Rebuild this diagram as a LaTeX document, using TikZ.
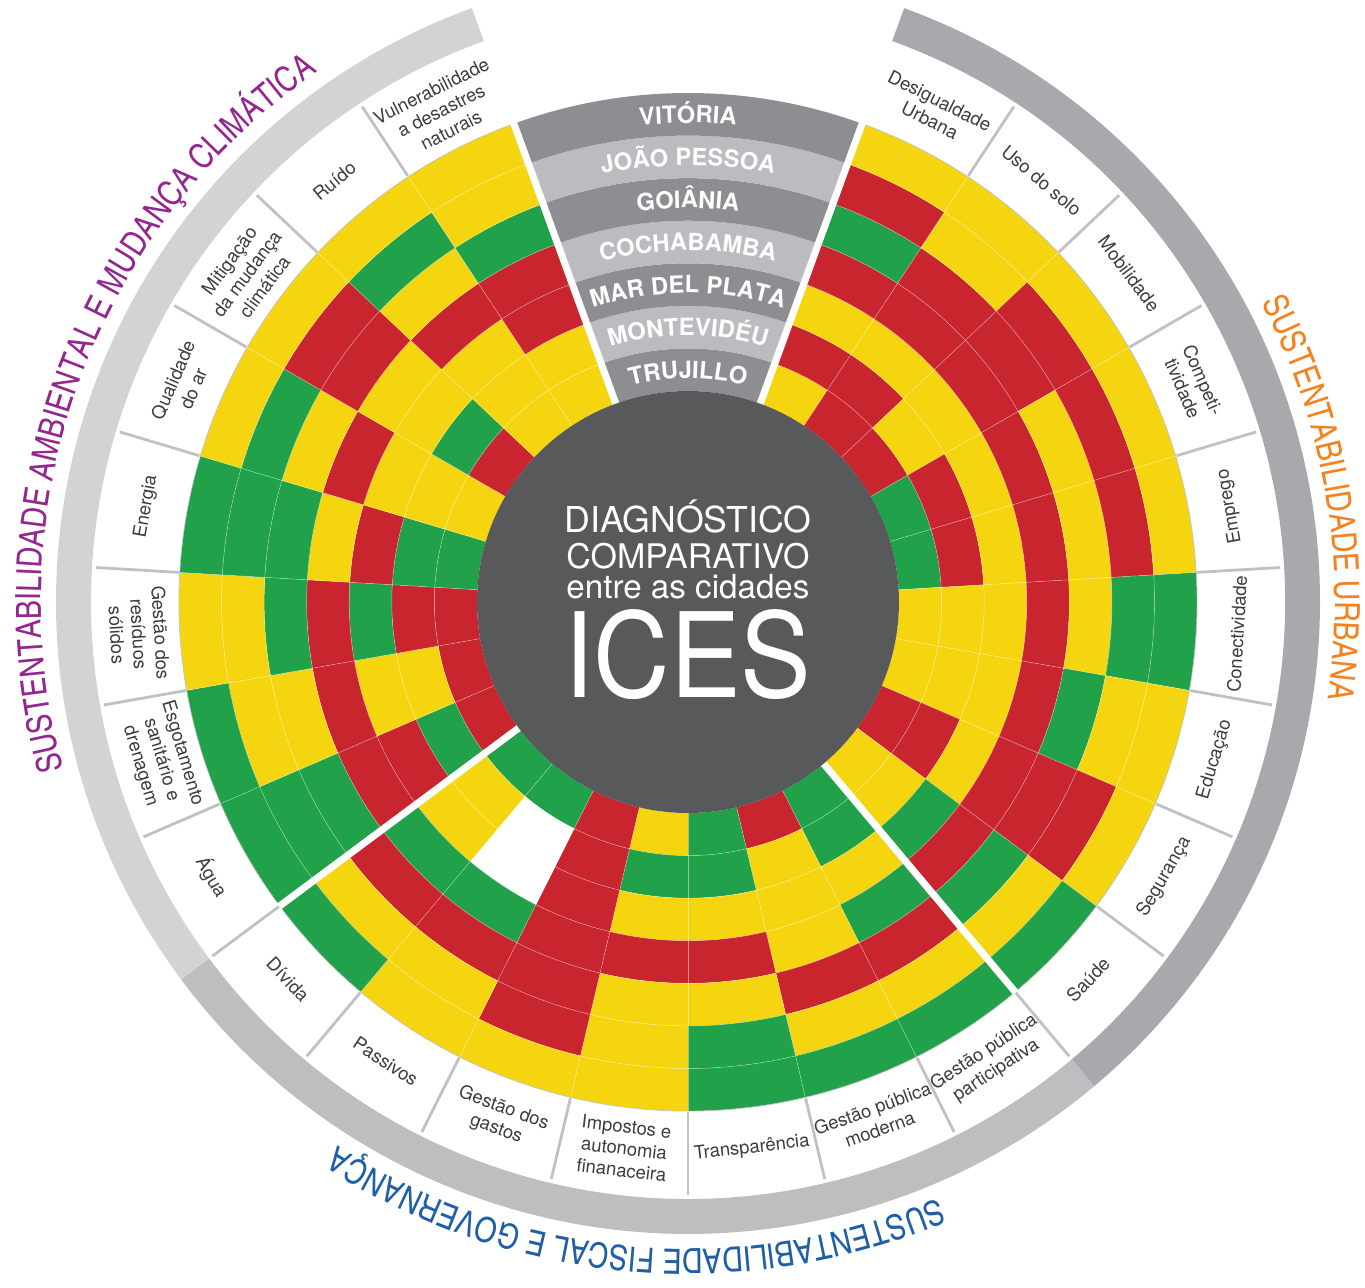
\documentclass[tikz,border=0pt]{standalone}
\usepackage{fontspec}
\usepackage{graphicx}
\setmainfont{TeX Gyre Heros}
\newfontfamily\cnfont{TeX Gyre Heros Cn}
\usetikzlibrary{decorations.text}

\definecolor{icesg}{HTML}{21A14A}
\definecolor{icesy}{HTML}{F4D50F}
\definecolor{icesr}{HTML}{C8252F}
\definecolor{icesw}{HTML}{FFFFFF}
\definecolor{disc}{HTML}{58595B}
\definecolor{citydark}{HTML}{8D8E91}
\definecolor{citylight}{HTML}{BBBCBF}
\definecolor{sepgray}{HTML}{BFC1C3}
\definecolor{bandurb}{HTML}{A7A9AC}
\definecolor{bandfis}{HTML}{BCBEC0}
\definecolor{bandamb}{HTML}{D1D3D4}
\definecolor{titurb}{HTML}{F58220}
\definecolor{titfis}{HTML}{1F5FA6}
\definecolor{titamb}{HTML}{93278F}
\definecolor{lbltext}{HTML}{3C3C3E}
\newcommand\cityfont{\bfseries\fontsize{13.5}{14}\selectfont\color{white}}
\newcommand\titfont{\cnfont\fontsize{19.8}{21}\selectfont}

\begin{document}
\begin{tikzpicture}[
    lbl/.style={font=\fontsize{10.5}{12.5}\selectfont,text=lbltext,align=center,inner sep=0pt},%
    cellline/.style={white,opacity=.45,line width=.3pt},%
    sepline/.style={sepgray,line width=1.6pt},%
    gapline/.style={white,line width=4pt},%
    ttl/.style={text=white,anchor=base,inner sep=0pt}]
    \useasboundingbox (-13.76,-13.70) rectangle (13.54,12.04);

    % outer bands of the three groups
    \fill[bandurb] (70:11.94) arc[start angle=70,end angle=-50,radius=11.94] -- (-50:12.64) arc[start angle=-50,end angle=70,radius=12.64] -- cycle;
    \fill[bandfis] (-50:11.94) arc[start angle=-50,end angle=-143.333,radius=11.94] -- (-143.333:12.64) arc[start angle=-143.333,end angle=-50,radius=12.64] -- cycle;
    \fill[bandamb] (216.667:11.94) arc[start angle=216.667,end angle=110,radius=11.94] -- (110:12.64) arc[start angle=110,end angle=216.667,radius=12.64] -- cycle;

    % cells: sector / colours from TRUJILLO (inner) to VITORIA (outer)
    \foreach \s/\cl in {0/{y,r,y,r,g,r,y},1/{r,r,y,r,r,y,y},2/{r,y,y,r,r,r,y},
        3/{g,r,y,r,y,r,y},4/{g,r,y,r,y,r,y},5/{y,y,y,r,y,g,g},6/{y,y,y,r,g,y,y},
        7/{r,r,y,r,r,r,y},8/{y,y,g,r,g,y,g},9/{g,g,y,g,r,y,g},10/{r,y,y,y,r,y,g},
        11/{g,g,y,r,y,g,g},12/{y,g,y,r,y,y,y},13/{r,r,r,r,r,r,y},14/{g,w,w,g,r,y,y},
        15/{g,y,y,g,r,y,g},16/{r,g,r,r,g,g,g},17/{r,y,y,r,y,y,g},18/{r,r,g,r,g,y,y},
        19/{g,g,r,y,g,g,g},20/{y,y,y,r,y,g,y},21/{r,g,y,y,r,r,y},22/{y,y,y,r,y,g,y},
        23/{y,y,r,r,g,y,y}}{
        \pgfmathsetmacro\aa{70-13.3333*\s}
        \pgfmathsetmacro\ab{\aa-13.3333}
        \foreach \c [count=\k] in \cl {
            \pgfmathsetmacro\ra{4.22+0.8514*(\k-1)}
            \pgfmathsetmacro\rb{\ra+0.8514}
            \fill[ices\c] (\aa:\ra) arc[start angle=\aa,end angle=\ab,radius=\ra] -- (\ab:\rb) arc[start angle=\ab,end angle=\aa,radius=\rb] -- cycle;
        }
    }
    \foreach \s in {1,...,23}
        \draw[cellline] ({70-13.3333*\s}:4.22) -- ({70-13.3333*\s}:10.18);
    \foreach \k in {1,...,6}
        \draw[cellline] ({70}:{4.22+0.8514*\k}) arc[start angle=70,end angle=-250,radius={4.22+0.8514*\k}];
    \draw[sepgray,line width=.4pt] (70:10.18) arc[start angle=70,end angle=-250,radius=10.18];

    % city wedge
    \foreach \k/\cc in {1/citydark,2/citylight,3/citydark,4/citylight,5/citydark,6/citylight,7/citydark}{
        \pgfmathsetmacro\ra{4.22+0.8514*(\k-1)}
        \pgfmathsetmacro\rb{\ra+0.8514}
        \fill[\cc] (70:\ra) arc[start angle=70,end angle=110,radius=\ra] -- (110:\rb) arc[start angle=110,end angle=70,radius=\rb] -- cycle;
    }
    \foreach \g in {70,110,-50,-143.333}
        \draw[gapline] (\g:4.1) -- (\g:10.22);

    % label ring separators
    \foreach \s in {1,...,23}
        \draw[sepline] ({70-13.3333*\s}:10.2) -- ({70-13.3333*\s}:11.86);

    \fill[disc] (0,0) circle (4.22);

    % city names
    \path[decorate,decoration={text along path,text align=center,text={|\cityfont|TRUJILLO}}] (125:4.476) arc[start angle=125,end angle=55,radius=4.476];
    \path[decorate,decoration={text along path,text align=center,text={|\cityfont|MONTEVIDÉU}}] (125:5.33) arc[start angle=125,end angle=55,radius=5.33];
    \path[decorate,decoration={text along path,text align=center,text={|\cityfont|MAR DEL PLATA}}] (125:6.18) arc[start angle=125,end angle=55,radius=6.18];
    \path[decorate,decoration={text along path,text align=center,text={|\cityfont|COCHABAMBA}}] (125:7.03) arc[start angle=125,end angle=55,radius=7.03];
    \path[decorate,decoration={text along path,text align=center,text={|\cityfont|GOIÂNIA}}] (125:7.88) arc[start angle=125,end angle=55,radius=7.88];
    \path[decorate,decoration={text along path,text align=center,text={|\cityfont|JOÃO PESSOA}}] (125:8.73) arc[start angle=125,end angle=55,radius=8.73];
    \path[decorate,decoration={text along path,text align=center,text={|\cityfont|VITÓRIA}}] (125:9.58) arc[start angle=125,end angle=55,radius=9.58];

    % centre title
    \node[ttl] (diag) at (0,1.40) {\resizebox{4.94cm}{!}{DIAGNÓSTICO}};
    \node[ttl] (comp) at (0,0.68) {\resizebox{4.86cm}{!}{COMPARATIVO}};
    \node[ttl] (entre) at (0,0.08) {\resizebox{4.86cm}{!}{entre as cidades}};
    \node[ttl] (ices) at (0,-1.90) {\resizebox{4.94cm}{1.76cm}{ICES}};

    % indicator labels
    \foreach \s/\rot/\txt in {0/-26.67/{Desigualdade\\Urbana},1/-40/{Uso do solo},
        2/-53.33/Mobilidade,3/-66.67/{Competi-\\tividade},4/100/Emprego,
        5/86.67/Conectividade,6/73.33/Educação,7/60/Segurança,8/46.67/Saúde,
        9/33.33/{Gestão pública\\participativa},10/20/{Gestão pública\\moderna},
        11/6.67/Transparência,12/-6.67/{Impostos e\\autonomia\\finanaceira},
        13/-20/{Gestão dos\\gastos},14/-33.33/Passivos,15/-46.67/Dívida,
        16/-60/Água,17/-73.33/{Esgotamento\\sanitário e\\drenagem},
        18/-86.67/{Gestão dos\\resíduos\\sólidos},19/80/Energia,
        20/66.67/{Qualidade\\do ar},21/53.33/{Mitigação\\da mudança\\climática},
        22/40/Ruído,23/26.67/{Vulnerabilidade\\a desastres\\naturais}}
        \node[lbl,rotate=\rot] (lab\s) at ({63.3333-13.3333*\s}:11.0) {\txt};

    % group titles
    \path[decorate,decoration={text along path,text align=center,text={|\titfont\color{titamb}|SUSTENTABILIDADE AMBIENTAL E MUDANÇA CLIMÁTICA}}] (215:12.94) arc[start angle=215,end angle=105,radius=12.94];
    \path[decorate,decoration={text along path,text align=center,text={|\titfont\color{titurb}|SUSTENTABILIDADE URBANA}}] (45:12.94) arc[start angle=45,end angle=-26,radius=12.94];
    \path[decorate,decoration={text along path,text align=center,text={|\titfont\color{titfis}|SUSTENTABILIDADE FISCAL E GOVERNANÇA}}] (-40:12.94) arc[start angle=-40,end angle=-150,radius=12.94];
\end{tikzpicture}
\end{document}
